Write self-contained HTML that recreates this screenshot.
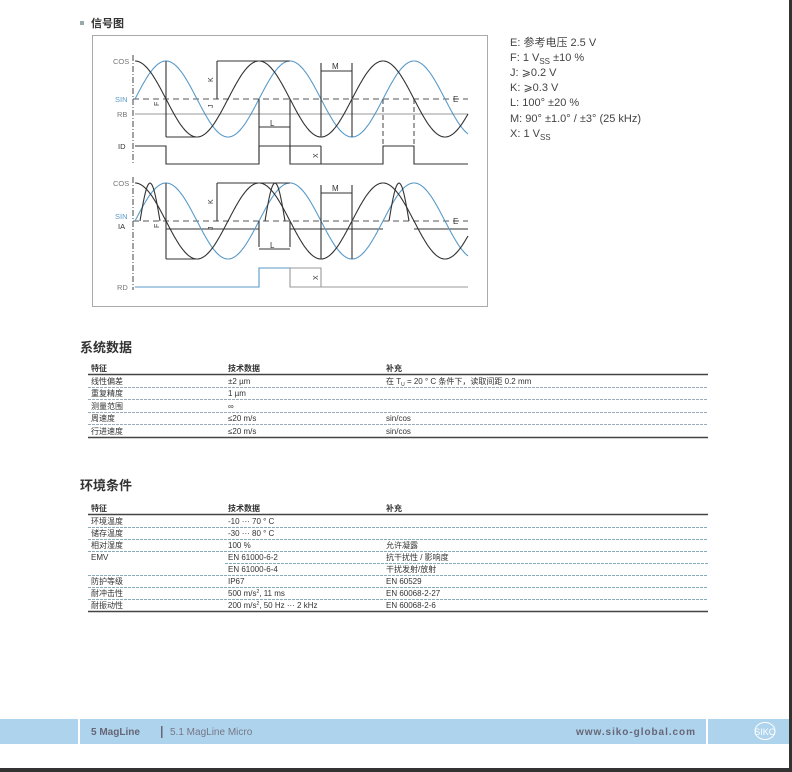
<!DOCTYPE html>
<html><head><meta charset="utf-8">
<style>
html,body{margin:0;padding:0;background:#fff;width:792px;height:772px;overflow:hidden}
svg{display:block}
text{font-family:"Liberation Sans","Noto Sans CJK SC",sans-serif}
</style></head><body>
<svg id="s" width="792" height="772" xmlns="http://www.w3.org/2000/svg">
<rect x="0" y="0" width="792" height="772" fill="#fff"/>
<rect x="789" y="0" width="3" height="772" fill="#333"/>
<rect x="0" y="768" width="792" height="4" fill="#333"/>
<rect x="80" y="21" width="4" height="4" fill="#9aa"/>
<text x="91" y="27" font-size="11" font-weight="bold" fill="#333">信号图</text>
<rect x="92.5" y="35.5" width="395" height="271" fill="none" stroke="#aaa" stroke-width="1"/>
<g id="diag" fill="none" stroke-width="1.1"></g>
<g font-size="7.5" font-family="Liberation Mono" fill="#777">
<text x="113" y="64">COS</text><text x="115" y="102" fill="#5a9ac8">SIN</text><text x="117" y="117">RB</text><text x="118" y="149" fill="#333">ID</text>
<text x="113" y="186">COS</text><text x="115" y="219" fill="#5a9ac8">SIN</text><text x="118" y="229" fill="#333">IA</text><text x="117" y="290">RD</text>
</g>
<g font-size="8" fill="#333">
<text x="453" y="102">E</text><text x="453" y="224">E</text>
<text x="270" y="126">L</text><text x="270" y="248">L</text>
<text x="332" y="69">M</text><text x="332" y="191">M</text>
</g>
<g font-size="7" fill="#333">
<text x="159" y="106" transform="rotate(-90 159 106)">F</text>
<text x="213" y="82" transform="rotate(-90 213 82)">K</text>
<text x="213" y="108" transform="rotate(-90 213 108)">J</text>
<text x="318" y="158" transform="rotate(-90 318 158)">X</text>
<text x="159" y="228" transform="rotate(-90 159 228)">F</text>
<text x="213" y="204" transform="rotate(-90 213 204)">K</text>
<text x="213" y="230" transform="rotate(-90 213 230)">J</text>
<text x="318" y="280" transform="rotate(-90 318 280)">X</text>
</g>
<g font-size="11" fill="#444">
<text x="510" y="46">E: 参考电压 2.5 V</text>
<text x="510" y="61">F: 1 V<tspan font-size="8" dy="3">SS</tspan><tspan dy="-3"> ±10 %</tspan></text>
<text x="510" y="76">J: ⩾0.2 V</text>
<text x="510" y="91">K: ⩾0.3 V</text>
<text x="510" y="106">L: 100°  ±20 %</text>
<text x="510" y="122">M: 90°  ±1.0°  / ±3° (25 kHz)</text>
<text x="510" y="137">X: 1 V<tspan font-size="8" dy="3">SS</tspan></text>
</g>
<text x="80" y="352" font-size="13" font-weight="bold" fill="#333">系统数据</text>
<g font-size="8" fill="#333">
<text x="91" y="371" font-weight="bold">特征</text><text x="228" y="371" font-weight="bold">技术数据</text><text x="386" y="371" font-weight="bold">补充</text>
<line x1="88" y1="374.5" x2="708" y2="374.5" stroke="#444" stroke-width="1.5"/>
<text x="91" y="384">线性偏差</text><text x="228" y="384">±2 µm</text><text x="386" y="384">在 T<tspan font-size="5" dy="2">U</tspan><tspan dy="-2"> = 20 ° C 条件下，读取间距 0.2 mm</tspan></text>
<line x1="88" y1="387.5" x2="708" y2="387.5" stroke="#9ab" stroke-dasharray="3 1"/>
<text x="91" y="396">重复精度</text><text x="228" y="396">1 µm</text>
<line x1="88" y1="399.5" x2="708" y2="399.5" stroke="#9ab" stroke-dasharray="3 1"/>
<text x="91" y="409">测量范围</text><text x="228" y="409">∞</text>
<line x1="88" y1="412.5" x2="708" y2="412.5" stroke="#9ab" stroke-dasharray="3 1"/>
<text x="91" y="421">周速度</text><text x="228" y="421">≤20 m/s</text><text x="386" y="421">sin/cos</text>
<line x1="88" y1="424.5" x2="708" y2="424.5" stroke="#9ab" stroke-dasharray="3 1"/>
<text x="91" y="434">行进速度</text><text x="228" y="434">≤20 m/s</text><text x="386" y="434">sin/cos</text>
<line x1="88" y1="437.5" x2="708" y2="437.5" stroke="#444" stroke-width="1.5"/>
</g>
<text x="80" y="490" font-size="13" font-weight="bold" fill="#333">环境条件</text>
<g font-size="8" fill="#333">
<text x="91" y="511" font-weight="bold">特征</text><text x="228" y="511" font-weight="bold">技术数据</text><text x="386" y="511" font-weight="bold">补充</text>
<line x1="88" y1="514.5" x2="708" y2="514.5" stroke="#444" stroke-width="1.5"/>
<text x="91" y="524">环境温度</text><text x="228" y="524">-10 ··· 70 ° C</text>
<line x1="88" y1="527.5" x2="708" y2="527.5" stroke="#8ab" stroke-dasharray="3 1"/>
<text x="91" y="536">储存温度</text><text x="228" y="536">-30 ··· 80 ° C</text>
<line x1="88" y1="539.5" x2="708" y2="539.5" stroke="#8ab" stroke-dasharray="3 1"/>
<text x="91" y="548">相对湿度</text><text x="228" y="548">100 %</text><text x="386" y="548">允许凝露</text>
<line x1="88" y1="551.5" x2="708" y2="551.5" stroke="#8ab" stroke-dasharray="3 1"/>
<text x="91" y="560">EMV</text><text x="228" y="560">EN 61000-6-2</text><text x="386" y="560">抗干扰性 / 影响度</text>
<line x1="225" y1="563.5" x2="708" y2="563.5" stroke="#8ab" stroke-dasharray="3 1"/>
<text x="228" y="572">EN 61000-6-4</text><text x="386" y="572">干扰发射/放射</text>
<line x1="88" y1="575.5" x2="708" y2="575.5" stroke="#8ab" stroke-dasharray="3 1"/>
<text x="91" y="584">防护等级</text><text x="228" y="584">IP67</text><text x="386" y="584">EN 60529</text>
<line x1="88" y1="587.5" x2="708" y2="587.5" stroke="#8ab" stroke-dasharray="3 1"/>
<text x="91" y="596">耐冲击性</text><text x="228" y="596">500 m/s<tspan font-size="5" dy="-3">2</tspan><tspan dy="3">, 11 ms</tspan></text><text x="386" y="596">EN 60068-2-27</text>
<line x1="88" y1="599.5" x2="708" y2="599.5" stroke="#8ab" stroke-dasharray="3 1"/>
<text x="91" y="608">耐振动性</text><text x="228" y="608">200 m/s<tspan font-size="5" dy="-3">2</tspan><tspan dy="3">, 50 Hz ··· 2 kHz</tspan></text><text x="386" y="608">EN 60068-2-6</text>
<line x1="88" y1="611.5" x2="708" y2="611.5" stroke="#444" stroke-width="1.5"/>
</g>
<rect x="0" y="719" width="789" height="25" fill="#aed3ec"/>
<rect x="78" y="719" width="2" height="25" fill="#fff"/>
<rect x="706" y="719" width="2" height="25" fill="#fff"/>
<text x="91" y="735" font-size="10" font-weight="bold" fill="#667">5 MagLine</text>
<rect x="161" y="726" width="1.5" height="12" fill="#667"/>
<text x="170" y="735" font-size="10" fill="#778">5.1 MagLine Micro</text>
<text x="576" y="735" font-size="10" font-weight="bold" fill="#667" textLength="119">www.siko-global.com</text>
<ellipse cx="765" cy="731" rx="10" ry="8.5" fill="none" stroke="#fff" stroke-width="1"/>
<text x="765" y="735" font-size="9" fill="#fff" text-anchor="middle">SIKO</text>
</svg>
<script>
(function(){
var g=document.getElementById('diag');
function el(d,stroke,extra){var p=document.createElementNS('http://www.w3.org/2000/svg','path');p.setAttribute('d',d);p.setAttribute('stroke',stroke);p.setAttribute('fill','none');p.setAttribute('stroke-width','1.1');if(extra)for(var k in extra)p.setAttribute(k,extra[k]);g.appendChild(p);}
function wave(c,a,ph,col){var d='';for(var x=135;x<=468;x+=1){var y=c-a*Math.sin(2*Math.PI*(x-135)/124+ph);d+=(x==135?'M':'L')+x+' '+y.toFixed(1);}el(d,col);}
var blk='#333',blu='#5a9ac8',gry='#999';
[[99,38],[221,38]].forEach(function(p,i){
 var c=p[0],a=p[1],top=c-a,bot=c+a;
 el('M133 '+(top-6)+'V'+(i?290:165),'#555',{'stroke-dasharray':'6 2 1 2'});
 el('M133 '+c+'H468','#555',{'stroke-dasharray':'6 4'});
 if(i==0) el('M135 114H468',gry);
 else el('M166 '+(c+8)+'H259M290 '+(c+8)+'H383M414 '+(c+8)+'H468',blk);
 wave(c,a,0,blu);
 wave(c,a,Math.PI/2,blk);
 if(i==1){[[140,160],[265,285],[389,409]].forEach(function(s){var dd='';for(var x=s[0];x<=s[1];x++){var y=c-a*Math.sin(Math.PI*(x-s[0])/(s[1]-s[0]));dd+=(x==s[0]?'M':'L')+x+' '+y.toFixed(1);}el(dd,blk);});}
 el('M166 '+top+'V'+bot+'M166 '+bot+'H196',blk);
 el('M217 '+top+'V'+c+'M217 '+top+'H290',blk);
 el('M259 '+c+'V'+(i?c+26:c+62)+'M290 '+c+'V'+(i?c+26:c+62),blk);
 el('M259 '+(c+28)+'H290',blk);
 el('M321 '+(top+2)+'V'+bot+'M352 '+(top+2)+'V'+bot+'M321 '+(top+10)+'H352',blk);
 if(i==0) el('M383 '+c+'V146M414 '+c+'V146','#555',{'stroke-dasharray':'5 3'});
});
el('M135 146H166V164H259V146H290V164H383V146H414V164H468M290 146H321',blk);
el('M321 146V164',blk);
el('M135 287H259V268H290',blu);
el('M290 268V287H468M290 268H321V287',gry);
})();
</script>
</body></html>
